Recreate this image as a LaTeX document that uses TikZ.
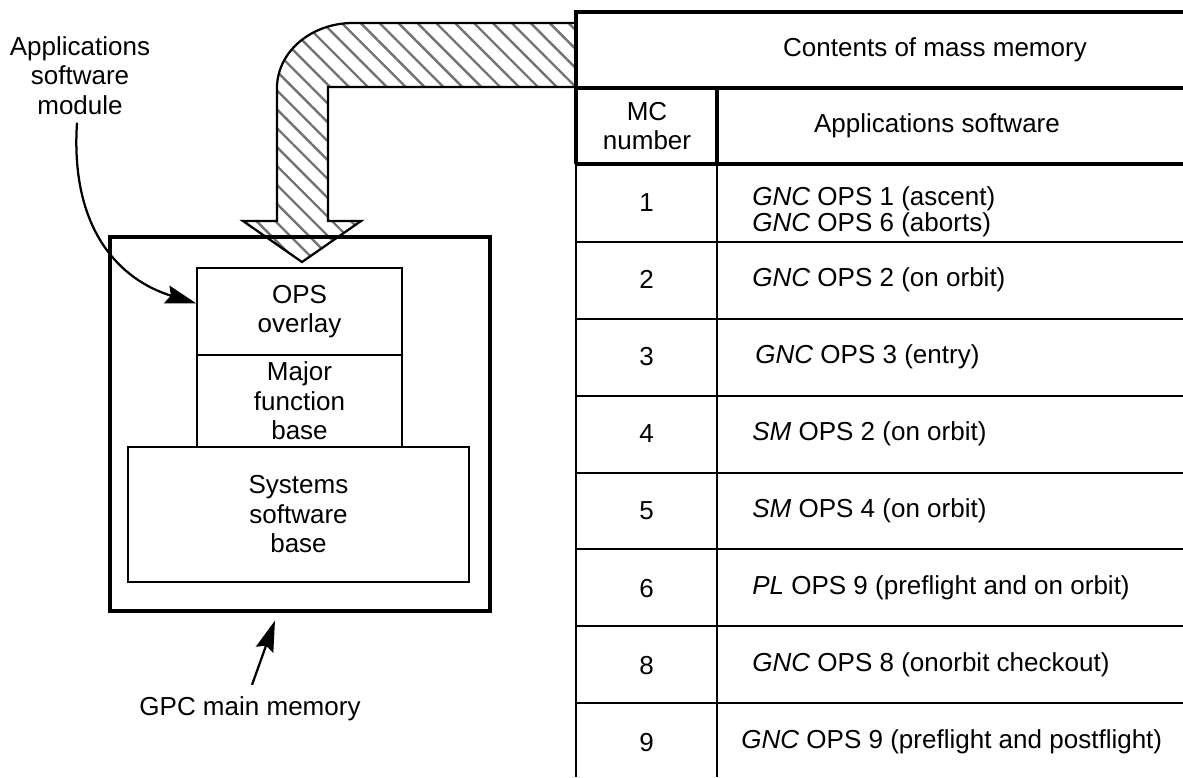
\documentclass[tikz,border=0pt]{standalone}
\usepackage{fontspec}
\setmainfont{Liberation Sans}
\usetikzlibrary{arrows.meta,calc,patterns.meta}
\definecolor{hatchgray}{gray}{0.45}

% wide diagonal hatching for the transfer arrow
\tikzdeclarepattern{
  name=widehatch,
  type=uncolored,
  bounding box={(0,-1pt) and (9.5pt,1pt)},
  tile size={(9.5pt,9.5pt)},
  tile transformation={rotate=-45},
  code={\draw[line width=1.7pt] (0,0) -- (9.5pt,0);}
}

\begin{document}
\begin{tikzpicture}[x=0.025cm, y=-0.025cm,
  every node/.style={font=\fontsize{18.5}{21}\selectfont, inner sep=0pt},
  wh/.style 2 args={minimum width=#1*0.025cm, minimum height=#2*0.025cm},
  layer/.style={draw, line width=0.8pt, align=center},
  ptr/.style={line width=1.6pt, -{Stealth[length=22pt,width=13pt,inset=3pt]}},
  thickrule/.style={line width=2.2pt},
  thinrule/.style={line width=0.9pt}]
\useasboundingbox (0,0) rectangle (1183,777);

%----- hatched transfer arrow -----
\path[pattern=widehatch, pattern color=hatchgray]
  (576,23) -- (353,23) .. controls (311,23) and (277,52) .. (277,88)
  -- (277,221) -- (243,221) -- (302,262) -- (361,221) -- (328,221)
  -- (328,87) -- (576,87) -- cycle;
\draw[line width=1.6pt, line join=miter]
  (576,23) -- (353,23) .. controls (311,23) and (277,52) .. (277,88)
  -- (277,221) -- (243,221) -- (302,262) -- (361,221) -- (328,221)
  -- (328,87) -- (576,87);

%----- GPC main memory -----
\node[draw, line width=2.2pt, wh={380}{374}] (mainmem) at (300,424) {};
\node[layer, wh={205}{87}] (ops) at (299.5,311.5) {OPS\\overlay};
\node[layer, wh={205}{92}] (mfb) at (299.5,401) {Major\\function\\base};
\node[layer, wh={341}{135}] (ssb) at (298.5,514.5) {Systems\\software\\base};

% labels with pointers
\node[anchor=north, align=center] (appmod) at (80,36) {Applications\\software\\module};
\draw[ptr] ($(appmod.south)+(-3,8)$) .. controls (70,230) and (120,280) .. ($(ops.west)+(0,-8)$);
\node[anchor=base] (gpclbl) at (250,715) {GPC main memory};
\coordinate (gpctip) at ($(mainmem.south)+(-25,8)$);
\draw[ptr] ($(gpclbl.north)+(2,-11)$) -- (gpctip);

%----- table: contents of mass memory -----
\draw[thickrule, line join=miter] (1183,12) -- (576,12) -- (576,164);
\draw[thickrule] (576,88) -- (1183,88) (576,164) -- (1183,164) (717,88) -- (717,164);
\draw[thinrule] (576,164) -- (576,777) (717,164) -- (717,777);
\foreach \y in {242,319,396,473,549,626,703}
  \draw[thinrule] (576,\y) -- (1183,\y);

\node (head) at (935,50) {Contents of mass memory};
\node[align=center] (mchead) at (647,126) {MC\\number};
\node (swhead) at (937,126) {Applications software};

% first row has two entries
\node (mc1) at (646.5,203) {1};
\node[anchor=west, align=left, font=\fontsize{18.5}{17}\selectfont] (sw1) at (752,212)
  {\textit{GNC} OPS 1 (ascent)\\\textit{GNC} OPS 6 (aborts)};
\foreach \mc/\sys/\txt/\xs [count=\i from 2] in {
    2/GNC/OPS 2 (on orbit)/752, 3/GNC/OPS 3 (entry)/755,
    4/SM/OPS 2 (on orbit)/752, 5/SM/OPS 4 (on orbit)/752,
    6/PL/OPS 9 (preflight and on orbit)/752,
    8/GNC/OPS 8 (onorbit checkout)/752,
    9/GNC/OPS 9 (preflight and postflight)/741} {
  \node (mc\mc) at (646.5,{164+77.1*(\i-0.5)}) {\mc};
  \node[anchor=west] (sw\mc) at (\xs,{164+77.1*(\i-0.5)}) {\textit{\sys} \txt};
}
\end{tikzpicture}
\end{document}
